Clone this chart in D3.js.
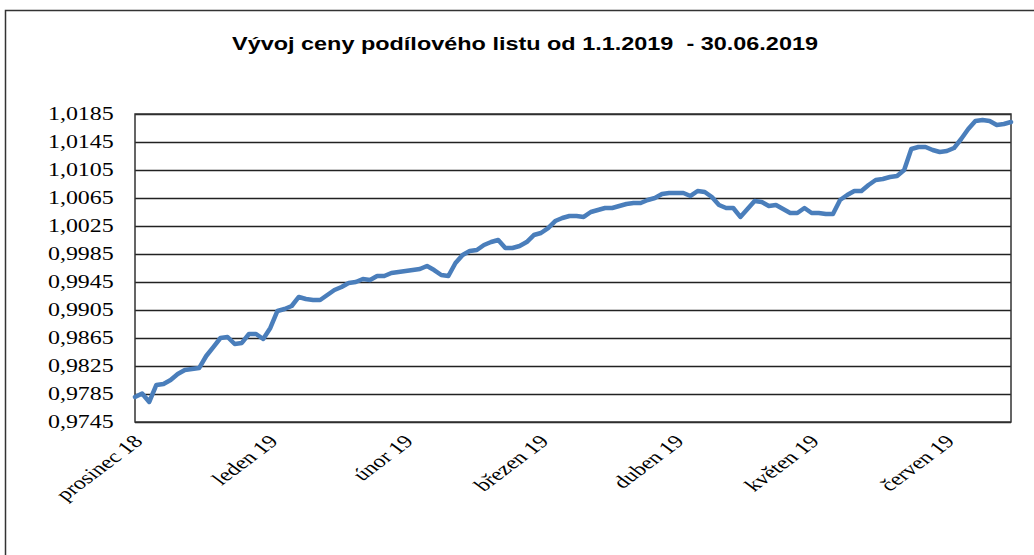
<!DOCTYPE html>
<html>
<head>
<meta charset="utf-8">
<script src="https://cdn.jsdelivr.net/npm/d3@7"></script>
<style>
  body { margin: 0; background: #fff; }
  svg { display: block; }
</style>
</head>
<body>
<div id="chart"></div>
<script>
// názvy měsíců na ose x (popisek každých 19 bodů)
const monthLabels = ["prosinec 18", "leden 19", "únor 19", "březen 19", "duben 19", "květen 19", "červen 19"];
const labelStep = 19;

// hodnoty na ose y
const yTicks = [0.9745, 0.9785, 0.9825, 0.9865, 0.9905, 0.9945, 0.9985, 1.0025, 1.0065, 1.0105, 1.0145, 1.0185];

// cena podílového listu (denní hodnoty)
const prices = [
  0.97807, 0.97857, 0.97736, 0.97979, 0.97993, 0.98050, 0.98136, 0.98193, 0.98207, 0.98221,
  0.98393, 0.98521, 0.98650, 0.98664, 0.98564, 0.98579, 0.98707, 0.98707, 0.98636, 0.98793,
  0.99036, 0.99064, 0.99107, 0.99236, 0.99207, 0.99193, 0.99193, 0.99264, 0.99336, 0.99379,
  0.99436, 0.99450, 0.99493, 0.99479, 0.99536, 0.99536, 0.99579, 0.99593, 0.99607, 0.99621,
  0.99636, 0.99679, 0.99621, 0.99550, 0.99536, 0.99721, 0.99836, 0.99893, 0.99907, 0.99979,
  1.00021, 1.00050, 0.99936, 0.99936, 0.99964, 1.00021, 1.00121, 1.00150, 1.00221, 1.00321,
  1.00364, 1.00393, 1.00393, 1.00379, 1.00450, 1.00479, 1.00507, 1.00507, 1.00536, 1.00564,
  1.00579, 1.00579, 1.00621, 1.00650, 1.00707, 1.00721, 1.00721, 1.00721, 1.00679, 1.00750,
  1.00736, 1.00664, 1.00550, 1.00507, 1.00507, 1.00379, 1.00493, 1.00607, 1.00593, 1.00536,
  1.00550, 1.00493, 1.00436, 1.00436, 1.00507, 1.00436, 1.00436, 1.00421, 1.00421, 1.00621,
  1.00693, 1.00750, 1.00750, 1.00836, 1.00907, 1.00921, 1.00950, 1.00964, 1.01050, 1.01350,
  1.01379, 1.01379, 1.01336, 1.01307, 1.01321, 1.01364, 1.01493, 1.01636, 1.01750, 1.01764,
  1.01750, 1.01693, 1.01707, 1.01736
];

const W = 1034, H = 555;
const margin = { top: 114, right: 23, bottom: 133, left: 135 };
const width = W - margin.left - margin.right,
      height = H - margin.top - margin.bottom;
const sx = 1.33; // obrázek je vodorovně roztažený

const svg = d3.select("#chart").append("svg")
    .attr("width", W)
    .attr("height", H);

// vnější rámeček
svg.append("rect")
    .attr("x", 5.5).attr("y", 10.5)
    .attr("width", W + 10).attr("height", H + 10)
    .attr("fill", "none")
    .attr("stroke", "#333")
    .attr("stroke-width", 1.5);

// titulek
svg.append("text")
    .attr("x", 525)
    .attr("y", 50)
    .attr("text-anchor", "middle")
    .attr("textLength", 586)
    .attr("lengthAdjust", "spacingAndGlyphs")
    .style("white-space", "pre")
    .style("font-family", "'Liberation Sans', Arial, sans-serif")
    .style("font-weight", "bold")
    .style("font-size", "18px")
    .text("Vývoj ceny podílového listu od 1.1.2019  - 30.06.2019");

const g = svg.append("g")
    .attr("transform", `translate(${margin.left},${margin.top})`);

const x = d3.scaleLinear()
    .domain([0, prices.length - 1])
    .range([0, width]);

const y = d3.scaleLinear()
    .domain([yTicks[0], yTicks[yTicks.length - 1]])
    .range([height, 0]);

const czFormat = d3.formatLocale({ decimal: ",", thousands: " ", grouping: [3], currency: ["", " Kč"] }).format(".4f");

// osa y + vodorovná mřížka
const yAxis = g.append("g")
    .call(d3.axisLeft(y).tickValues(yTicks).tickSize(-width).tickPadding(16).tickFormat(czFormat));
yAxis.select(".domain").remove();
yAxis.selectAll(".tick line")
    .attr("stroke", "#222")
    .attr("stroke-width", 1.3);
yAxis.selectAll(".tick text")
    .attr("transform", `scale(${sx},1)`)
    .style("font-family", "'Liberation Serif', 'Times New Roman', serif")
    .style("font-size", "18px")
    .style("fill", "#000");

// rámeček plochy grafu
g.append("rect")
    .attr("width", width)
    .attr("height", height)
    .attr("fill", "none")
    .attr("stroke", "#333")
    .attr("stroke-width", 1.5);

// popisky osy x
const labelIdx = monthLabels.map((m, i) => i * labelStep);
g.append("g").selectAll("text")
    .data(monthLabels)
    .enter()
    .append("text")
    .attr("transform", (d, i) => `translate(${x(labelIdx[i]) + 3},${height + 16}) scale(${sx},1) rotate(-45)`)
    .attr("text-anchor", "end")
    .attr("dy", "0.35em")
    .style("font-family", "'Liberation Serif', 'Times New Roman', serif")
    .style("font-size", "18px")
    .style("fill", "#000")
    .text(d => d);

// čára ceny
const line = d3.line()
    .x((d, i) => x(i))
    .y(d => y(d));

g.append("path")
    .datum(prices)
    .attr("fill", "none")
    .attr("stroke", "#4a7ebb")
    .attr("stroke-width", 4.5)
    .attr("stroke-linejoin", "round")
    .attr("stroke-linecap", "round")
    .attr("d", line);
</script>
</body>
</html>
